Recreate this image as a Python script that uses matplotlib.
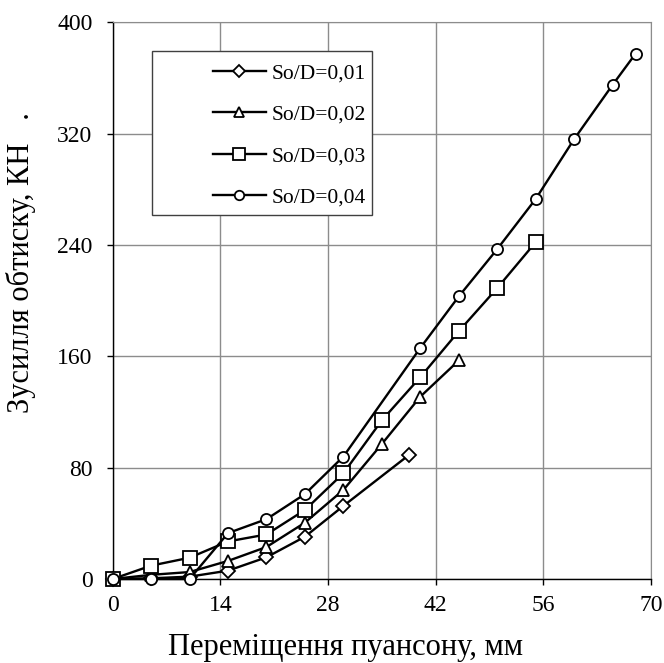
import matplotlib
matplotlib.use("Agg")
import matplotlib.pyplot as plt
from matplotlib.patches import Rectangle

plt.rcParams.update({
    "font.family": "Liberation Serif", "font.size": 17,
})

# --- data (punch travel, mm -> force, kN) ------------------------------------
x_001 = [0, 5, 10, 15, 20, 25, 30, 38.5]
y_001 = [0, 0.5, 1.7, 6, 15.6, 30.4, 52.5, 89]

x_002 = [0, 5, 10, 15, 20, 25, 30, 35, 40, 45]
y_002 = [0, 3, 5, 13, 23, 40.5, 64, 97, 131, 157]

x_003 = [0, 5, 10, 15, 20, 25, 30, 35, 40, 45, 50, 55]
y_003 = [0, 9.6, 15.3, 27, 32, 49.6, 76, 114, 145, 178, 209, 242]

x_004 = [0, 5, 10, 15, 20, 25, 30, 40, 45, 50, 55, 60, 65, 68]
y_004 = [0, 0, 0, 33, 43, 61, 88, 166, 203, 237, 273, 316, 355, 377.5]

labels = ["So/D=0,01", "So/D=0,02", "So/D=0,03", "So/D=0,04"]
xticks = [0, 14, 28, 42, 56, 70]
yticks = [0, 80, 160, 240, 320, 400]

series = [(x_001, y_001, "D", 7.0), (x_002, y_002, "^", 9.0),
          (x_003, y_003, "s", 9.5), (x_004, y_004, "o", 8.0)]

fig = plt.figure(figsize=(6.64, 6.63), dpi=100)
ax = fig.add_axes([112.7 / 664, 1 - 579 / 663, (651 - 112.7) / 664, (579 - 22.3) / 663])

handles = []
for (xs, ys, m, ms), lab in zip(series, labels):
    h, = ax.plot(xs, ys, color="black", lw=1.7, marker=m, ms=ms,
                 mfc="white", mec="black", mew=1.3, label=lab, clip_on=False, zorder=4)
    handles.append(h)

ax.set_xlim(0, 70)
ax.set_ylim(0, 400)
ax.set_xticks(xticks)
ax.set_yticks(yticks)
ax.grid(True, color="#8c8c8c", lw=1.0)
ax.set_axisbelow(True)
for s in ("top", "right"):
    ax.spines[s].set_color("#8c8c8c")
for s in ("left", "bottom"):
    ax.spines[s].set_linewidth(1.0)
ax.tick_params(direction="out", length=4.5, width=1.0)
ax.tick_params(axis="x", pad=7)
ax.tick_params(axis="y", pad=10)

ax.set_xlabel("Переміщення пуансону, мм", fontsize=22)
ax.xaxis.set_label_coords(0.4316, -0.097)
ax.set_ylabel("Зусилля обтиску, КН   .", fontsize=22)
ax.yaxis.set_label_coords(-0.1425, 0.568)

# legend box (Excel style: fixed box, entries pushed right)
box = Rectangle(((151.7 - 112.7) / 538.3, (579 - 215) / 556.7),
                (372 - 151.7) / 538.3, (215 - 51) / 556.7, transform=ax.transAxes,
                facecolor="white", edgecolor="#404040", lw=1.0, zorder=5)
ax.add_patch(box)
leg = ax.legend(handles=handles, loc="upper left",
                bbox_to_anchor=((213 - 112.7) / 538.3, (579 - 63) / 556.7),
                frameon=False, borderpad=0, borderaxespad=0, handlelength=2.45,
                handletextpad=0.28, labelspacing=1.0, markerscale=0.85, fontsize=15.5)
leg.set_zorder(6)

fig.savefig("out.png", dpi=100)
